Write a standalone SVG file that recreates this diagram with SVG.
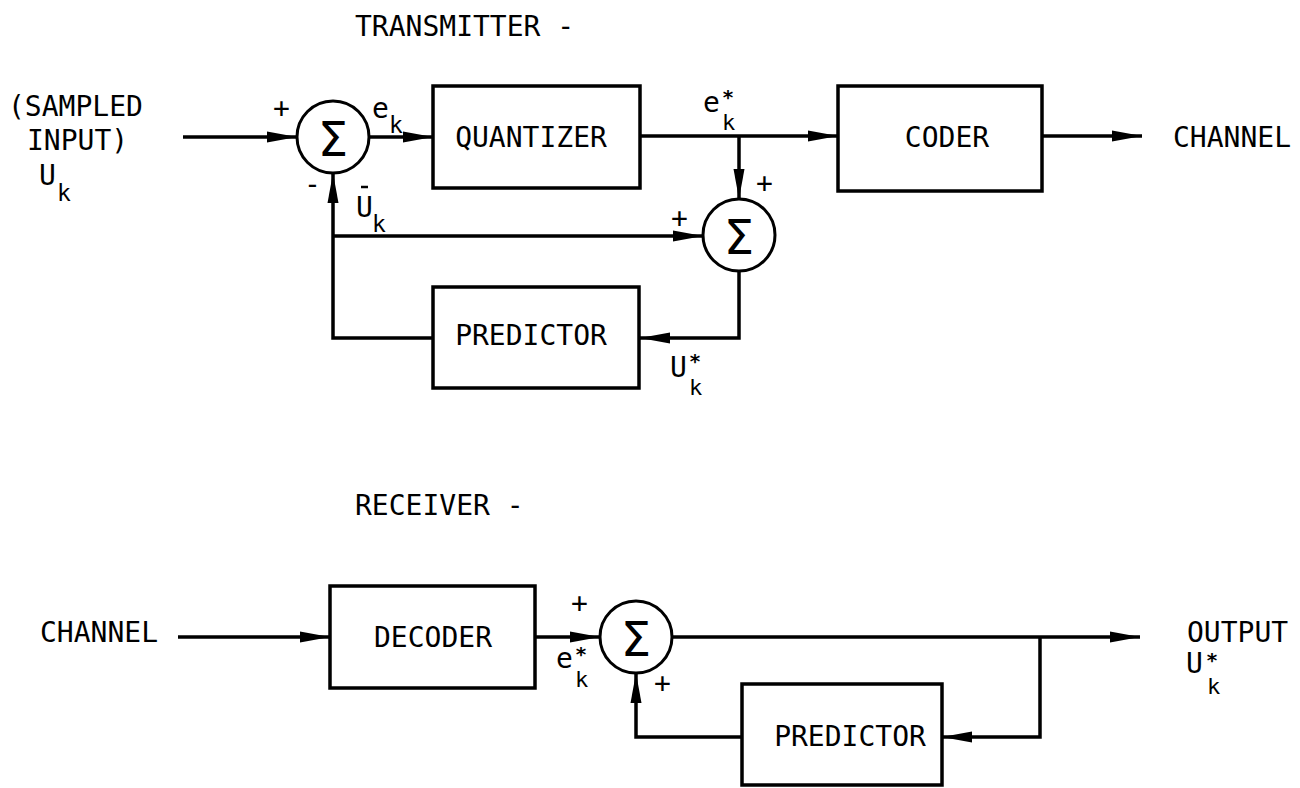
<svg xmlns="http://www.w3.org/2000/svg" width="1300" height="788" viewBox="0 0 1300 788">
<defs>
<marker id="arr" viewBox="0 0 30 12" refX="30" refY="6" markerWidth="30" markerHeight="12" markerUnits="userSpaceOnUse" orient="auto">
<path d="M0,0.5 L30,6 L0,11.5 z" fill="#000"/>
</marker>
</defs>
<style>
.box{fill:#fff;stroke:#000;stroke-width:3.5}
.sum{fill:#fff;stroke:#000;stroke-width:3}
.ln{fill:none;stroke:#000;stroke-width:3.5}
.t{font-family:"DejaVu Sans Mono","Liberation Mono",monospace;font-size:28px;fill:#000}
.tc{font-family:"DejaVu Sans Mono","Liberation Mono",monospace;font-size:28px;fill:#000;text-anchor:middle}
.sig{font-family:"DejaVu Sans","Liberation Sans",sans-serif;font-size:48px;fill:#000;text-anchor:middle}
.s{font-family:"DejaVu Sans Mono","Liberation Mono",monospace;font-size:23px;fill:#000}
.k{font-family:"DejaVu Sans Mono","Liberation Mono",monospace;font-size:22px;fill:#000}
.st{font-family:"DejaVu Sans Mono","Liberation Mono",monospace;font-size:20px;font-weight:bold;fill:#000}
</style>
<rect width="1300" height="788" fill="#fff"/>

<g id="labels">
<text class="t" x="355" y="36">TRANSMITTER -</text>
<text class="t" x="8" y="116">(SAMPLED</text>
<text class="t" x="27" y="150">INPUT)</text>
<text class="t" x="39" y="185">U</text><text class="s" x="57" y="201">k</text>
<text class="t" x="1173" y="147">CHANNEL</text>
<text class="t" x="355" y="515">RECEIVER -</text>
<text class="t" x="40" y="642">CHANNEL</text>
<text class="t" x="1187" y="642">OUTPUT</text>
<text class="t" x="1186" y="673">U</text><text class="st" x="1206" y="667">*</text><text class="k" x="1207" y="694">k</text>
</g>

<g id="connectors">
<line class="ln" x1="183" y1="137" x2="297" y2="137" marker-end="url(#arr)"/>
<line class="ln" x1="369" y1="137" x2="433" y2="137" marker-end="url(#arr)"/>
<line class="ln" x1="640" y1="136" x2="838" y2="136" marker-end="url(#arr)"/>
<line class="ln" x1="739" y1="136" x2="739" y2="199" marker-end="url(#arr)"/>
<line class="ln" x1="333" y1="236" x2="703" y2="236" marker-end="url(#arr)"/>
<polyline class="ln" points="739,271 739,338 640,338" marker-end="url(#arr)"/>
<polyline class="ln" points="433,338 333,338 333,173" marker-end="url(#arr)"/>
<line class="ln" x1="1042" y1="136" x2="1142" y2="136" marker-end="url(#arr)"/>
<line class="ln" x1="178" y1="637" x2="330" y2="637" marker-end="url(#arr)"/>
<line class="ln" x1="535" y1="637" x2="600" y2="637" marker-end="url(#arr)"/>
<line class="ln" x1="672" y1="637" x2="1140" y2="637" marker-end="url(#arr)"/>
<polyline class="ln" points="1040,637 1040,737 942,737" marker-end="url(#arr)"/>
<polyline class="ln" points="742,737 636,737 636,673" marker-end="url(#arr)"/>
<text class="t" x="273" y="118">+</text>
<text class="t" x="304" y="194">-</text>
<text class="t" x="372" y="118">e</text><text class="s" x="389" y="133">k</text>
<text class="t" x="703" y="112">e</text><text class="st" x="722" y="104">*</text><text class="k" x="722" y="130">k</text>
<text class="t" x="756" y="193">+</text>
<text class="t" x="671" y="228">+</text>
<line x1="361" y1="187" x2="368" y2="187" stroke="#000" stroke-width="2.5"/>
<text class="t" x="356" y="217">U</text><text class="s" x="372" y="232">k</text>
<text class="t" x="670" y="377">U</text><text class="st" x="689" y="368">*</text><text class="k" x="689" y="395">k</text>
<text class="t" x="571" y="613">+</text>
<text class="t" x="556" y="668">e</text><text class="st" x="575" y="661">*</text><text class="k" x="575" y="687">k</text>
<text class="t" x="654" y="693">+</text>
</g>

<g id="sum1"><circle class="sum" cx="333" cy="137" r="36"/><text class="sig" x="333" y="156">Σ</text></g>
<g id="quantizer"><rect class="box" x="433" y="86" width="207" height="102"/><text class="tc" x="531" y="147">QUANTIZER</text></g>
<g id="coder"><rect class="box" x="838" y="86" width="204" height="105"/><text class="tc" x="947" y="147">CODER</text></g>
<g id="sum2"><circle class="sum" cx="739" cy="235" r="36"/><text class="sig" x="739" y="254">Σ</text></g>
<g id="predictor1"><rect class="box" x="433" y="287" width="206" height="101"/><text class="tc" x="531" y="345">PREDICTOR</text></g>
<g id="decoder"><rect class="box" x="330" y="586" width="205" height="102"/><text class="tc" x="433" y="647">DECODER</text></g>
<g id="sum3"><circle class="sum" cx="636" cy="637" r="36"/><text class="sig" x="636" y="656">Σ</text></g>
<g id="predictor2"><rect class="box" x="742" y="684" width="200" height="101"/><text class="tc" x="850" y="746">PREDICTOR</text></g>
</svg>
